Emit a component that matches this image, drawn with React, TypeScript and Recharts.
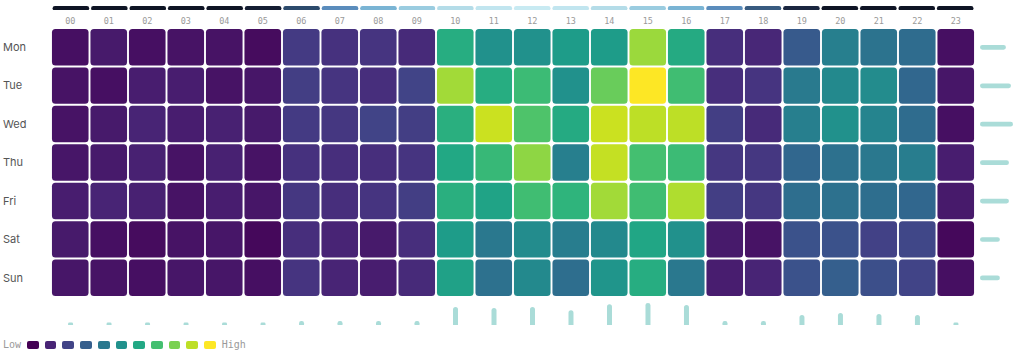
import React from "react";
import { ScatterChart, Scatter, XAxis, YAxis, BarChart, Bar, Cell } from "recharts";

// ─── data ─────────────────────────────────────────────────────────────────────
const hourLabels = ["00", "01", "02", "03", "04", "05", "06", "07", "08", "09", "10", "11",
  "12", "13", "14", "15", "16", "17", "18", "19", "20", "21", "22", "23"];
const days = ["Mon", "Tue", "Wed", "Thu", "Fri", "Sat", "Sun"];

// activity intensity 0..100 per hour
const mon = [4, 7, 4, 5, 5, 3, 17, 14, 15, 12, 62, 50, 50, 55, 55, 85, 61, 13, 11, 28, 43, 38, 35, 4];
const tue = [5, 4, 8, 8, 5, 6, 18, 15, 13, 20, 86, 62, 68, 50, 77, 100, 69, 13, 15, 41, 47, 48, 33, 6];
const wed = [5, 7, 10, 8, 9, 7, 17, 16, 20, 18, 63, 92, 72, 61, 92, 90, 90, 18, 12, 43, 50, 45, 35, 4];
const thu = [6, 7, 9, 5, 9, 5, 14, 13, 13, 15, 60, 67, 83, 43, 91, 70, 68, 16, 16, 33, 37, 40, 42, 8];
const fri = [8, 10, 9, 5, 8, 6, 16, 13, 15, 18, 63, 58, 69, 65, 86, 69, 88, 18, 16, 36, 37, 36, 33, 7];
const sat = [7, 4, 3, 5, 6, 2, 13, 10, 7, 13, 55, 40, 48, 42, 47, 59, 50, 7, 5, 25, 25, 19, 21, 2];
const sun = [6, 5, 4, 6, 6, 4, 15, 10, 8, 12, 57, 37, 47, 36, 52, 62, 40, 8, 10, 25, 30, 24, 20, 4];
const dayRows = [mon, tue, wed, thu, fri, sat, sun];

// daylight per hour (top strip)
const daylight = [0, 0, 0, 0, 0, 0.05, 0.3, 0.5, 0.65, 0.78, 0.88, 0.96,
  1, 0.96, 0.88, 0.78, 0.65, 0.5, 0.35, 0.1, 0, 0, 0, 0];

// marginal totals
const hourTotals = [27, 27, 27, 27, 27, 27, 43, 43, 43, 43, 183, 173, 183, 150, 210, 223, 203, 43, 43, 103, 123, 113, 103, 27];
const dayTotals = [257, 307, 327, 287, 287, 197, 197];

// ─── colour scales ────────────────────────────────────────────────────────────
const VIRIDIS = ["#440154", "#471365", "#482475", "#463480", "#414487", "#3b528b", "#355f8d",
  "#2f6c8e", "#2a788e", "#25848e", "#21918c", "#1e9c89", "#22a884", "#2fb47c", "#44bf70",
  "#5ec962", "#7ad151", "#9bd93c", "#bddf26", "#dfe318", "#fde725"];

function hexToRgb(h: string) {
  return [parseInt(h.slice(1, 3), 16), parseInt(h.slice(3, 5), 16), parseInt(h.slice(5, 7), 16)];
}
function mix(a: string, b: string, t: number) {
  const A = hexToRgb(a), B = hexToRgb(b);
  return `rgb(${A.map((v, i) => Math.round(v + (B[i] - v) * t)).join(",")})`;
}
function viridis(t: number) {
  const x = Math.max(0, Math.min(1, t)) * (VIRIDIS.length - 1);
  const i = Math.min(Math.floor(x), VIRIDIS.length - 2);
  return mix(VIRIDIS[i], VIRIDIS[i + 1], x - i);
}
const SKY: [number, string][] = [[0, "#0e1424"], [0.1, "#1a2640"], [0.3, "#2c4a6c"], [0.5, "#5a8cbc"],
  [0.65, "#7ab4d4"], [0.78, "#9acce0"], [0.88, "#b4dce8"], [1, "#c8eaf2"]];
function sky(t: number) {
  for (let i = 0; i < SKY.length - 1; i++) {
    const [a, ca] = SKY[i], [b, cb] = SKY[i + 1];
    if (t <= b) return mix(ca, cb, (t - a) / (b - a));
  }
  return SKY[SKY.length - 1][1];
}

const cells = dayRows.flatMap((row, d) => row.map((v, h) => ({ h, d, v })));
const stripData = hourLabels.map((label, i) => ({ label, v: 1, light: daylight[i] }));
const hourBars = hourLabels.map((label, i) => ({ label, v: hourTotals[i] }));
const dayBars = days.map((day, i) => ({ day, v: dayTotals[i] }));

const MARGIN_L = 51;
const MARGIN_R = 42;
const CELL_W = 36.6;
const CELL_H = 36.4;
const BAR_COLOR = "#aadcd8";

// ─── pieces ───────────────────────────────────────────────────────────────────
function HeatCell(props: any) {
  const { cx, cy, payload } = props;
  if (cx == null || cy == null) return null;
  return (
    <rect x={cx - CELL_W / 2} y={cy - CELL_H / 2} width={CELL_W} height={CELL_H}
      rx={3.5} ry={3.5} fill={viridis(payload.v / 100)} />
  );
}

function DayTick(props: any) {
  const { y, payload } = props;
  return (
    <text x={3} y={y} dy={3.8} fontSize={11} fontFamily="Inter, 'Noto Sans', sans-serif" fill="#555">
      {days[payload.value]}
    </text>
  );
}

export default function App() {
  return (
    <div style={{ position: "absolute", left: 0, top: 0, width: 1017, height: 359, background: "#fff" }}>
      {/* top daylight strip */}
      <div style={{ position: "absolute", left: 0, top: 5.7 }}>
        <BarChart width={1017} height={4.6} data={stripData} margin={{ top: 0, right: MARGIN_R, bottom: 0, left: MARGIN_L }}
          barCategoryGap={0}>
          <XAxis dataKey="label" hide />
          <YAxis hide domain={[0, 1]} />
          <Bar dataKey="v" barSize={CELL_W} radius={2.3} isAnimationActive={false}>
            {stripData.map((s, i) => <Cell key={i} fill={sky(s.light)} />)}
          </Bar>
        </BarChart>
      </div>

      {/* heatmap */}
      <div style={{ position: "absolute", left: 0, top: 0 }}>
        <ScatterChart width={1017} height={300} margin={{ top: 0, right: MARGIN_R, bottom: 3, left: 0 }}>
          <XAxis type="number" dataKey="h" orientation="top" domain={[-0.5, 23.5]}
            ticks={hourLabels.map((_, i) => i)} interval={0} height={28}
            axisLine={false} tickLine={false} tickSize={0} tickMargin={4}
            tickFormatter={(v: number) => hourLabels[v]}
            tick={{ fontSize: 8.5, fontFamily: "'DejaVu Sans Mono', monospace", fill: "#9a9a9a" }} />
          <YAxis type="number" dataKey="d" domain={[-0.5, 6.5]} reversed
            ticks={days.map((_, i) => i)} interval={0} width={MARGIN_L}
            axisLine={false} tickLine={false} tick={<DayTick />} />
          <Scatter data={cells} shape={HeatCell} isAnimationActive={false} />
        </ScatterChart>
      </div>

      {/* right: per-day totals */}
      <div style={{ position: "absolute", left: 980, top: 28 }}>
        <BarChart layout="vertical" width={33} height={269} data={dayBars} margin={{ top: 0, right: 0, bottom: 0, left: 0 }}>
          <XAxis type="number" hide domain={[0, "dataMax"]} />
          <YAxis type="category" dataKey="day" hide />
          <Bar dataKey="v" barSize={4.7} radius={2.35} fill={BAR_COLOR} isAnimationActive={false} />
        </BarChart>
      </div>

      {/* bottom: per-hour totals */}
      <div style={{ position: "absolute", left: 0, top: 302.7 }}>
        <BarChart width={1017} height={22.3} data={hourBars} margin={{ top: 0, right: MARGIN_R, bottom: 0, left: MARGIN_L }}>
          <XAxis dataKey="label" hide />
          <YAxis hide domain={[0, "dataMax"]} />
          <Bar dataKey="v" barSize={5} radius={[2.5, 2.5, 0, 0]} fill={BAR_COLOR} isAnimationActive={false} />
        </BarChart>
      </div>

      {/* legend */}
      <div style={{
        position: "absolute", left: 3, top: 340, height: 10, display: "flex", alignItems: "center", gap: 6,
        fontFamily: "'DejaVu Sans Mono', monospace", fontSize: 10, color: "#9a9a9a", lineHeight: "10px",
      }}>
        <span>Low</span>
        {Array.from({ length: 11 }, (_, i) => (
          <span key={i} style={{ width: 11.7, height: 8, borderRadius: 2, background: viridis(i / 10), display: "inline-block" }} />
        ))}
        <span>High</span>
      </div>
    </div>
  );
}
